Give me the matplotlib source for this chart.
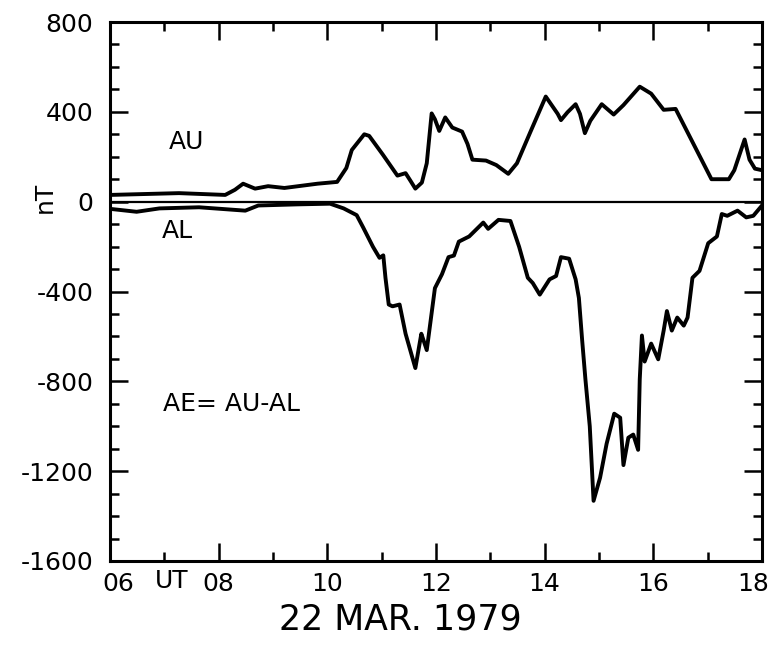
import matplotlib
matplotlib.use("Agg")
import matplotlib.pyplot as plt
from matplotlib.ticker import MultipleLocator
from matplotlib.transforms import ScaledTranslation

plt.rcParams['font.family'] = ['DejaVu Sans']
plt.rcParams['axes.unicode_minus'] = False

# AU index (hours UT, nT)
au_hours = [6.00, 7.27, 8.12, 8.30, 8.45, 8.67, 8.91, 9.21, 9.82, 10.18, 10.35, 10.45,
            10.68, 10.77, 11.02, 11.29, 11.44, 11.53, 11.62, 11.74, 11.83, 11.92, 11.98,
            12.06, 12.17, 12.30, 12.48, 12.58, 12.67, 12.92, 13.11, 13.33, 13.49, 13.74,
            14.02, 14.24, 14.30, 14.42, 14.57, 14.65, 14.74, 14.84, 15.05, 15.27, 15.45,
            15.75, 15.96, 16.19, 16.41, 17.07, 17.39, 17.49, 17.68, 17.77, 17.87, 18.00]
au_values = [30, 38, 30, 53, 80, 58, 69, 61, 80, 88, 150, 230,
             300, 293, 210, 116, 127, 93, 58, 85, 171, 393, 367,
             315, 375, 330, 312, 257, 187, 183, 163, 124, 171, 312,
             468, 391, 363, 398, 434, 391, 305, 360, 434, 388, 430,
             512, 481, 409, 413, 100, 100, 140, 277, 187, 147, 140]

# AL index (hours UT, nT)
al_hours = [6.00, 6.49, 6.91, 7.64, 8.49, 8.73, 9.45, 10.05, 10.30, 10.54, 10.66, 10.84,
            10.96, 11.03, 11.07, 11.13, 11.20, 11.33, 11.44, 11.62, 11.73, 11.77, 11.83,
            11.98, 12.11, 12.23, 12.33, 12.42, 12.61, 12.74, 12.87, 12.96, 13.15, 13.37,
            13.53, 13.69, 13.78, 13.91, 14.09, 14.21, 14.30, 14.45, 14.57, 14.63, 14.69,
            14.75, 14.83, 14.90, 15.02, 15.14, 15.28, 15.39, 15.45, 15.54, 15.63, 15.72,
            15.75, 15.79, 15.84, 15.96, 16.09, 16.19, 16.25, 16.34, 16.44, 16.56, 16.63,
            16.72, 16.85, 17.01, 17.17, 17.26, 17.36, 17.55, 17.71, 17.84, 18.00]
al_values = [-32, -45, -30, -25, -40, -17, -12, -9, -30, -60, -115, -201,
             -250, -239, -339, -458, -466, -458, -588, -741, -588, -617, -661,
             -385, -323, -247, -240, -178, -155, -124, -93, -121, -81, -86,
             -201, -339, -362, -414, -346, -331, -247, -254, -346, -429, -617,
             -791, -1000, -1332, -1229, -1078, -944, -962, -1173, -1051, -1037, -1105,
             -791, -596, -712, -632, -702, -574, -487, -574, -516, -552, -516,
             -339, -308, -185, -155, -55, -63, -40, -70, -63, -17]

x_ticks = [6, 8, 10, 12, 14, 16, 18]
x_ticklabels = ["06", "08", "10", "12", "14", "16", "18"]
y_ticks = [800, 400, 0, -400, -800, -1200, -1600]
y_ticklabels = ["800", "400", "0", "-400", "-800", "-1200", "-1600"]

fig = plt.figure(figsize=(7.75, 6.46), dpi=100)
ax = fig.add_axes([110/775, 1-561/646, (762-110)/775, (561-22)/646])

ax.axhline(0, color='black', lw=1.6)
ax.plot(au_hours, au_values, color='black', lw=2.8, solid_joinstyle='round')
ax.plot(al_hours, al_values, color='black', lw=2.8, solid_joinstyle='round')

ax.set_xlim(6, 18)
ax.set_ylim(-1600, 800)
ax.set_xticks(x_ticks)
ax.set_xticklabels(x_ticklabels)
ax.set_yticks(y_ticks)
ax.set_yticklabels(y_ticklabels)
ax.xaxis.set_minor_locator(MultipleLocator(1))
ax.yaxis.set_minor_locator(MultipleLocator(100))

ax.tick_params(which='both', direction='in', top=True, right=True, width=1.8)
ax.tick_params(which='major', length=13)
ax.tick_params(which='minor', length=6.5)
ax.tick_params(axis='y', which='major', labelsize=18, pad=12)
ax.tick_params(axis='x', which='major', labelsize=18, pad=8)

labels = ax.get_xticklabels()
labels[0].set_transform(labels[0].get_transform() + ScaledTranslation(6/72, 0, fig.dpi_scale_trans))
labels[-1].set_transform(labels[-1].get_transform() + ScaledTranslation(-6/72, 0, fig.dpi_scale_trans))

for s in ax.spines.values():
    s.set_linewidth(2.2)

ax.text(-0.10, 0.675, "nT", transform=ax.transAxes, rotation=90,
        fontsize=18, ha='center', va='center')
ax.text(0.094, -0.038, "UT", transform=ax.transAxes, fontsize=18, ha='center', va='center')
ax.text(0.117, 0.777, "AU", transform=ax.transAxes, fontsize=18, ha='center', va='center')
ax.text(0.104, 0.612, "AL", transform=ax.transAxes, fontsize=18, ha='center', va='center')
ax.text(0.081, 0.291, "AE= AU-AL", transform=ax.transAxes, fontsize=18, ha='left', va='center')

fig.text(400/775, 1-620/646, "22 MAR. 1979", fontsize=25, ha='center', va='center')

fig.savefig("out.png", dpi=100)
